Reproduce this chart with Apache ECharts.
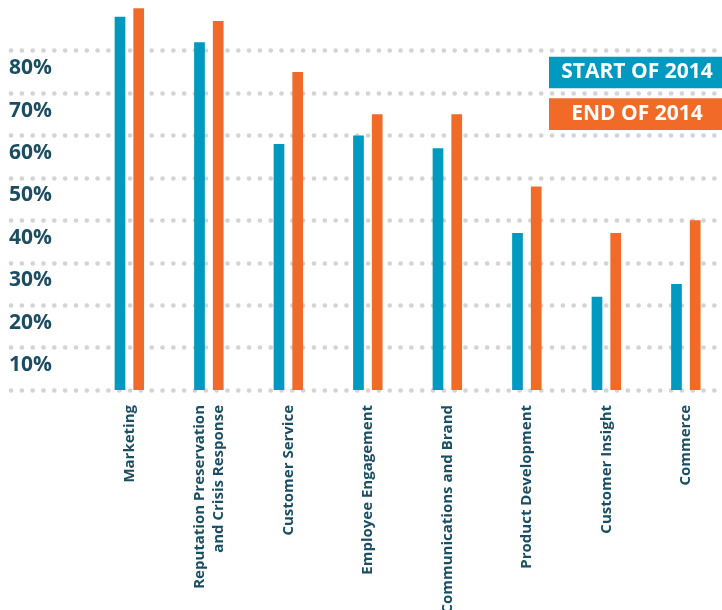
<!DOCTYPE html>
<html>
<head>
<meta charset="utf-8">
<script src="https://cdn.jsdelivr.net/npm/echarts@6/dist/echarts.min.js"></script>
<style>
  html, body { margin: 0; padding: 0; background: #ffffff; }
  #chart { width: 722px; height: 610px; }
</style>
</head>
<body>
<div id="chart"></div>
<script>
// Business functions surveyed
const categories = [
  'Marketing',
  'Reputation Preservation\nand Crisis Response',
  'Customer Service',
  'Employee Engagement',
  'Communications and Brand',
  'Product Development',
  'Customer Insight',
  'Commerce'
];
// Share of respondents (%)
const startOf2014 = [88, 82, 58, 60, 57, 37, 22, 25];
const endOf2014 = [90, 87, 75, 65, 65, 48, 37, 40];
const seriesNames = ['START OF 2014', 'END OF 2014'];

const TEAL = '#0099bf';
const ORANGE = '#f26a27';
const INK = '#1b4e62';
const FONT = 'Open Sans';

// Legend swatches are fixed-width coloured boxes with the name centred inside;
// the side padding is worked out from the rendered text width.
const LEGEND_BOX_W = 176;
const LEGEND_FONT_SIZE = 21;
const measureCtx = document.createElement('canvas').getContext('2d');
measureCtx.font = 'bold ' + LEGEND_FONT_SIZE + 'px "' + FONT + '"';
function legendBox(name, color) {
  const side = Math.max(0, (LEGEND_BOX_W - measureCtx.measureText(name).width) / 2);
  return {
    backgroundColor: color,
    color: '#ffffff',
    fontFamily: FONT,
    fontWeight: 'bold',
    fontSize: LEGEND_FONT_SIZE,
    lineHeight: 31.6,
    height: 31.6,
    padding: [0, side]
  };
}

const chart = echarts.init(document.getElementById('chart'), null, { renderer: 'canvas' });

const plotTop = 50.7;
const plotBottom = 610 - 390;

chart.setOption({
  animation: false,
  textStyle: { fontFamily: FONT },
  grid: [
    // full-width background: dotted rules and percentage labels
    { left: 11, width: 716, top: plotTop, bottom: plotBottom, outerBoundsMode: 'none' },
    // bar area
    { left: 89.6, width: 636, top: plotTop, bottom: plotBottom, outerBoundsMode: 'none' }
  ],
  xAxis: [
    { gridIndex: 0, type: 'value', min: 0, max: 1, show: false },
    {
      gridIndex: 1,
      type: 'category',
      data: categories,
      axisLine: { show: false },
      axisTick: { show: false },
      axisLabel: {
        rotate: 90,
        margin: 15,
        interval: 0,
        color: INK,
        fontFamily: FONT,
        fontWeight: 'bold',
        fontSize: 15,
        lineHeight: 19
      }
    }
  ],
  yAxis: [
    {
      gridIndex: 0,
      type: 'value',
      min: 0,
      max: 80,
      interval: 10,
      axisLine: { show: false },
      axisTick: { show: false },
      splitLine: {
        show: true,
        lineStyle: { color: '#d4d4d4', width: 4.6, type: [0.1, 10.72], cap: 'round' }
      },
      axisLabel: {
        inside: true,
        margin: -2,
        color: INK,
        fontFamily: FONT,
        fontWeight: 'bold',
        fontSize: 21,
        verticalAlign: 'top',
        lineHeight: 35,
        formatter: v => (v === 0 ? '' : v + '%')
      }
    },
    { gridIndex: 1, type: 'value', min: 0, max: 80, show: false }
  ],
  legend: {
    orient: 'vertical',
    left: 544,
    top: 56.7,
    padding: 0,
    itemGap: 10,
    itemWidth: 0,
    itemHeight: 0,
    data: seriesNames,
    formatter: name => (name === seriesNames[0] ? '{s|' + name + '}' : '{e|' + name + '}'),
    textStyle: {
      rich: {
        s: legendBox(seriesNames[0], TEAL),
        e: legendBox(seriesNames[1], ORANGE)
      }
    }
  },
  series: [
    {
      name: seriesNames[0],
      type: 'bar',
      xAxisIndex: 1,
      yAxisIndex: 1,
      data: startOf2014,
      barWidth: 10.7,
      barGap: '75%',
      clip: false,
      itemStyle: { color: TEAL }
    },
    {
      name: seriesNames[1],
      type: 'bar',
      xAxisIndex: 1,
      yAxisIndex: 1,
      data: endOf2014,
      barWidth: 10.7,
      barGap: '75%',
      clip: false,
      itemStyle: { color: ORANGE }
    }
  ]
});
</script>
</body>
</html>
